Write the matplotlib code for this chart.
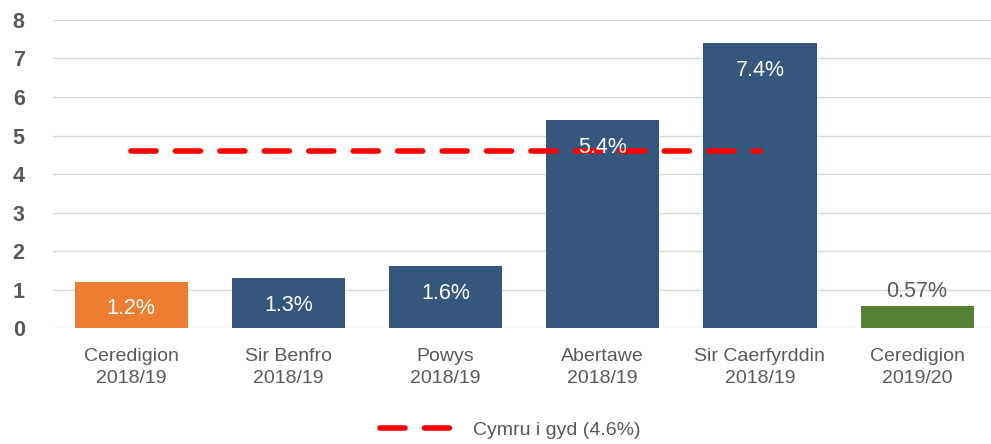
import matplotlib.pyplot as plt
from matplotlib.lines import Line2D

categories = ["Ceredigion\n2018/19", "Sir Benfro\n2018/19", "Powys\n2018/19",
              "Abertawe\n2018/19", "Sir Caerfyrddin\n2018/19", "Ceredigion\n2019/20"]
values = [1.2, 1.3, 1.6, 5.4, 7.4, 0.57]
labels = ["1.2%", "1.3%", "1.6%", "5.4%", "7.4%", "0.57%"]
colors = ["#ED7D31", "#35577D", "#35577D", "#35577D", "#35577D", "#548235"]
wales_avg = 4.6
wales_label = "Cymru i gyd (4.6%)"

plt.rcParams['font.family'] = ['Liberation Sans', 'DejaVu Sans']
grey = "#595959"

fig = plt.figure(figsize=(9.91, 4.44), dpi=100)
ax = fig.add_axes([0.053, 0.261, 0.947, 0.694])

x = list(range(len(values)))
ax.bar(x, values, width=0.72, color=colors, zorder=2)

# Wales average line from first to fifth bar centre
ax.plot([0, 4], [wales_avg, wales_avg], color="#FF0000", lw=4,
        dashes=(4.5, 3.5), solid_capstyle="round", dash_capstyle="round", zorder=3)

for i, (v, lab) in enumerate(zip(values, labels)):
    if v < 1:
        ax.text(i, v + 0.12, lab, ha="center", va="bottom", color=grey, fontsize=15.5, zorder=4)
    else:
        ax.text(i, v - 0.7, lab, ha="center", va="center", color="white", fontsize=15.5, zorder=4)

ax.set_ylim(0, 8)
ax.set_xlim(-0.5, 5.47)
ax.set_yticks(range(0, 9))
ax.set_xticks(x)
ax.set_xticklabels(categories, fontsize=14, color=grey, linespacing=1.45)
for t in ax.get_yticklabels():
    t.set_fontweight("bold")
    t.set_fontsize(15.5)
    t.set_color(grey)
ax.tick_params(axis="both", length=0)
ax.tick_params(axis="x", pad=14)
ax.tick_params(axis="y", pad=20)
ax.grid(axis="y", color="#D9D9D9", lw=1, zorder=0)
ax.set_axisbelow(True)
for s in ax.spines.values():
    s.set_visible(False)

handle = Line2D([0], [0], color="#FF0000", lw=4, dashes=(4.5, 3.5), dash_capstyle="round")
fig.legend([handle], [wales_label], loc="center", bbox_to_anchor=(0.515, 0.032),
           frameon=False, fontsize=14, labelcolor=grey, handlelength=4)

fig.savefig("out.png", dpi=100)
